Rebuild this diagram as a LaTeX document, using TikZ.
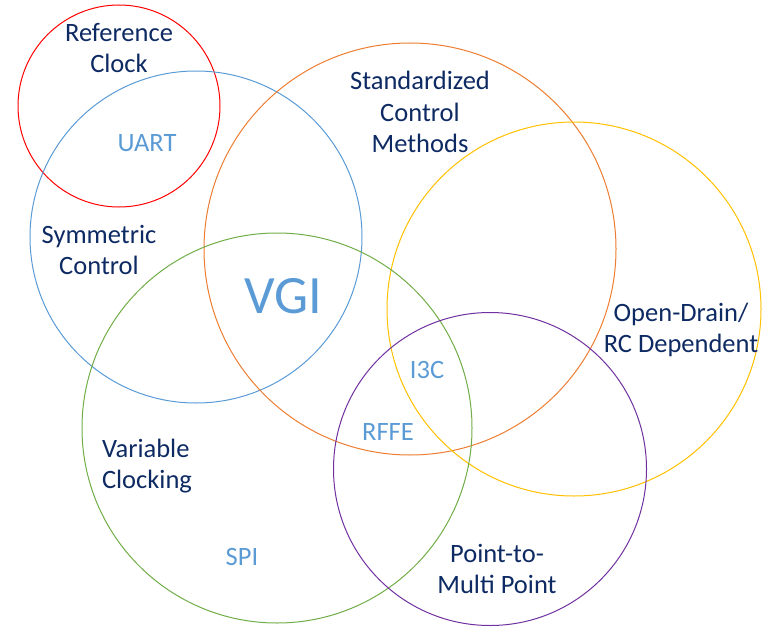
\documentclass[tikz,border=0pt]{standalone}
\usepackage{fontspec}
\setmainfont{Carlito}

\definecolor{navytext}{HTML}{0E2A63}
\definecolor{busblue}{HTML}{5B9BD5}
\definecolor{ringred}{HTML}{FF0000}
\definecolor{ringblue}{HTML}{5B9BD5}
\definecolor{ringorange}{HTML}{ED7D31}
\definecolor{ringyellow}{HTML}{FFC000}
\definecolor{ringgreen}{HTML}{70AD47}
\definecolor{ringpurple}{HTML}{7030A0}

\begin{document}
\begin{tikzpicture}[x=1pt,y=-1pt,
    ring/.style={circle, draw, line width=1pt, inner sep=0pt, minimum size=#1},
    topic/.style={text=navytext, align=center, font=\fontsize{26.5}{31.5}\selectfont},
    bus/.style={text=busblue, font=\fontsize{26.5}{31}\selectfont}]
  \useasboundingbox (0,0) rectangle (765,626);

  % the six rings
  \node[ring=202pt, draw=ringred] (refclk) at (119,106) {};
  \node[ring=332pt, draw=ringblue] (symctl) at (196,237) {};
  \node[ring=412pt, draw=ringorange] (stdctl) at (410,249) {};
  \node[ring=374pt, draw=ringyellow] (opendrain) at (574,309) {};
  \node[ring=390pt, draw=ringgreen] (varclk) at (277,428) {};
  \node[ring=313pt, draw=ringpurple] (p2mp) at (490,469) {};

  % ring titles
  \node[topic] (refclklbl) at (119,48) {Reference\\Clock};
  \node[topic] (stdctllbl) at (420,112) {Standardized\\Control\\Methods};
  \node[topic] (symctllbl) at (99,250) {Symmetric\\Control};
  \node[topic] (opendrainlbl) at (681,330) {Open-Drain/\\RC Dependent};
  \node[topic, align=left] (varclklbl) at (147,466) {Variable\\Clocking};
  \node[topic] (p2mplbl) at (497,569) {Point-to-\\Multi Point};

  % interfaces
  \node[bus] (uart) at (147,143) {UART};
  \node[bus, font=\fontsize{54}{60}\selectfont] (vgi) at (283,296) {VGI};
  \node[bus] (i3c) at (427,370) {I3C};
  \node[bus] (rffe) at (388,432) {RFFE};
  \node[bus] (spi) at (242,557) {SPI};
\end{tikzpicture}
\end{document}
